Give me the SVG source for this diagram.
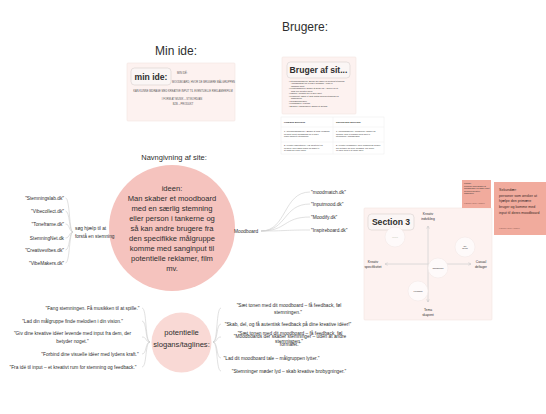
<svg xmlns="http://www.w3.org/2000/svg" width="546" height="414" viewBox="0 0 546 414">
<defs>
<style>
text{font-family:"Liberation Sans",Arial,sans-serif;fill:#2e2e2e}
.h{font-size:12px}
.sub{font-size:7.5px}
.big{font-size:7.6px}
.sm{font-size:4.8px}
.tiny{font-size:2.6px;fill:#555}
.xt{font-size:2.1px;fill:#666}
.frame{fill:#fdf2f0;stroke:#f4e4e1;stroke-width:0.6}
.lbl{fill:#fbf6f5;stroke:#d9d0ce;stroke-width:0.6}
.lt{font-weight:600}
.con{fill:none;stroke:#cdcdcd;stroke-width:0.6}
.ax{fill:none;stroke:#d3d3d3;stroke-width:0.8}
.dot{fill:#fefafa;stroke:#f0e6e4;stroke-width:0.5}
.sticky{fill:#f1ab9d}
.st{font-size:3.6px;fill:#3a2a27}
.c{text-anchor:middle}
.e{text-anchor:end}
</style>
<marker id="arr" viewBox="0 0 6 6" refX="5" refY="3" markerWidth="4" markerHeight="4" orient="auto-start-reverse">
<path d="M0,0.5 L5,3 L0,5.5" fill="none" stroke="#c8c8c8" stroke-width="1"/>
</marker>
</defs>
<rect width="546" height="414" fill="#ffffff"/>

<g id="title-min-ide"><text class="h" x="155" y="55">Min ide:</text></g>
<g id="title-brugere"><text class="h" x="282" y="31">Brugere:</text></g>
<g id="title-navngivning"><text class="sub c" x="174" y="159.5">Navngivning af site:</text></g>

<g id="min-ide-frame">
<rect class="frame" x="127" y="63" width="108" height="58" rx="1"/>
<rect class="lbl" x="131" y="68" width="40" height="17" rx="3.5"/>
<text class="lt" x="151" y="79.5" font-size="8.6" text-anchor="middle">min ide:</text>
<text class="tiny" x="177" y="74">MIN IDÉ:</text>
<text class="tiny" x="172" y="83">MOODBOARD, HVOR DE BRUGERE MÅLGRUPPEN</text>
<text class="tiny c" x="183" y="92">KAN KUNNE BIDRAGE MED KREATIVE INPUT TIL EVENTUELLE REKLAMER/FILM</text>
<text class="tiny c" x="182" y="100">I FORM AT MUSIK – STIKORD/AN</text>
<text class="tiny c" x="183" y="105">B2B – PRODUKT</text>
</g>

<g id="bruger-frame">
<rect class="frame" x="282" y="57" width="74" height="57" rx="1"/>
<rect class="lbl" x="287" y="62" width="63" height="16" rx="3.5"/>
<text class="lt" x="318.5" y="73" font-size="8.6" text-anchor="middle">Bruger af sit...</text>
<g class="xt">
<text x="289" y="81.5">• Stemningssøgeren: Bruger der søger en bestemt stemning</text>
<text x="291" y="84">i moodboardet og vil have feedback – som vil</text>
<text x="291" y="86.5">indsamle input</text>
<text x="289" y="89">• Kreativskaberen: ønsker at bruge lyd – skriver for at</text>
<text x="291" y="91.5">finde nye kreative idéer</text>
<text x="289" y="94">• Sanger / musiker der vil dele input</text>
<text x="289" y="96.5">• Producent: søger et godt match mellem stemning og</text>
<text x="291" y="99">målgruppen</text>
<text x="289" y="101.5">• Reklamebureauer</text>
<text x="289" y="104">• Filmskabere / kortfilm</text>
<text x="289" y="106.5">• Brugere i målgruppen: ønsker at deltage</text>
</g>
</g>

<g id="bruger-table">
<rect x="281" y="117" width="103" height="37" fill="#ffffff" stroke="#ececec" stroke-width="0.5"/>
<line x1="281" y1="127" x2="384" y2="127" stroke="#ececec" stroke-width="0.5"/>
<line x1="281" y1="142" x2="384" y2="142" stroke="#ececec" stroke-width="0.5"/>
<line x1="333" y1="117" x2="333" y2="154" stroke="#ececec" stroke-width="0.5"/>
<g class="xt">
<text x="284" y="122.5" font-weight="bold">PRIMÆRE BRUGERE</text>
<text x="336" y="122.5" font-weight="bold">SEKUNDÆRE BRUGERE</text>
<text x="284" y="132">1. "Stemningssøgeren": Ønsker at finde feedback</text>
<text x="284" y="134.5">og input på sit moodboard og vil have</text>
<text x="284" y="137">nogle konkrete stemninger</text>
<text x="336" y="132">1. "Musikskaberen": Producerer, sanger og</text>
<text x="336" y="134.5">musiker, som vil bidrage med input til</text>
<text x="336" y="137">stemninger i moodboards</text>
<text x="284" y="146">2. "Kreativ Inspiratoren": Har kreativitet og</text>
<text x="284" y="148.5">og idéer, men søger hjælp fra andre til</text>
<text x="284" y="151">at forstå sin egen vision</text>
<text x="336" y="146">2. "Kreativ feedbacker": Den engagerede bruger</text>
<text x="336" y="148.5">der deltager og giver feedback, der gerne</text>
<text x="336" y="151">vil være med til at forme idéer</text>
</g>
</g>

<g id="connectors">
<line class="con" x1="116" y1="230" x2="124" y2="230"/>
<path class="con" d="M73,232 C69,232 70,198 65.5,198"/>
<path class="con" d="M73,232 C69,232 70,211 65.5,211"/>
<path class="con" d="M73,232 C69,232 70,224 65.5,224"/>
<path class="con" d="M73,232 C69,232 70,238 65.5,238"/>
<path class="con" d="M73,232 C69,232 70,250 65.5,250"/>
<path class="con" d="M73,232 C69,232 70,263 65.5,263"/>
<line class="con" x1="222" y1="231" x2="233" y2="231"/>
<path class="con" d="M261,231 C287,231 283,192 310,192"/>
<path class="con" d="M261,231 C287,231 283,204 310,204"/>
<path class="con" d="M261,231 C287,231 283,217 310,217"/>
<path class="con" d="M261,231 C287,231 283,230 310,230"/>
<path class="con" d="M150,342 C145,342 147,308 142,308"/>
<path class="con" d="M150,342 C145,342 147,321 142,321"/>
<path class="con" d="M150,342 C145,342 147,337 142,337"/>
<path class="con" d="M150,342 C145,342 147,354 142,354"/>
<path class="con" d="M150,342 C145,342 147,367 142,367"/>
<path class="con" d="M213,342 C218,342 216,308 221,308"/>
<path class="con" d="M213,342 C218,342 216,324 221,324"/>
<path class="con" d="M213,342 C218,342 216,337 221,337"/>
<path class="con" d="M213,342 C218,342 216,358 221,358"/>
<path class="con" d="M213,342 C218,342 216,371 221,371"/>
</g>

<g id="ideen">
<circle cx="172" cy="228" r="63" fill="#f5c3be"/>
<g class="big c">
<text x="172" y="190.5">ideen:</text>
<text x="172" y="200.5">Man skaber et moodboard</text>
<text x="172" y="210.6">med en særlig stemning</text>
<text x="172" y="220.7">eller person i tankerne og</text>
<text x="172" y="230.8">så kan andre brugere fra</text>
<text x="172" y="240.9">den specifikke målgruppe</text>
<text x="172" y="251">komme med sanginput til</text>
<text x="172" y="261.1">potentielle reklamer, film</text>
<text x="172" y="271.2">mv.</text>
</g>
</g>

<g id="soeg-hjaelp">
<text class="sm" x="75" y="229.5">søg hjælp til at</text>
<text class="sm" x="75" y="237.5">forstå en stemning</text>
</g>
<g id="navne-venstre" class="sm e">
<text x="64" y="199.7">"Stemningslab.dk"</text>
<text x="64" y="212.7">"Vibecollect.dk"</text>
<text x="64" y="225.7">"Toneframe.dk"</text>
<text x="64" y="239.7">StemningNet.dk</text>
<text x="64" y="251.7">"Creativevibes.dk"</text>
<text x="64" y="264.7">"VibeMakers.dk"</text>
</g>

<g id="moodboard"><text class="sm" x="234" y="232.7">Moodboard</text></g>
<g id="navne-hoejre" class="sm">
<text x="311" y="193.7">"moodmatch.dk"</text>
<text x="311" y="205.7">"Inputmood.dk"</text>
<text x="311" y="218.7">"Moodify.dk"</text>
<text x="311" y="231.7">"Inspireboard.dk"</text>
</g>

<g id="slogans">
<circle cx="181.5" cy="342.5" r="30" fill="#f9d9d5"/>
<text class="big c" x="181.5" y="334.8" font-size="8">potentielle</text>
<text class="big c" x="181.5" y="346.8" font-size="8">slogans/taglines:</text>
</g>

<g id="slogans-venstre" class="sm c">
<text x="92.5" y="309.7">"Fang stemningen. Få musikken til at spille."</text>
<text x="72.5" y="322.7">"Lad din målgruppe finde melodien i din vision."</text>
<text x="72.5" y="334.7">"Giv dine kreative idéer levende med input fra dem, der</text>
<text x="72.5" y="342.7">betyder noget."</text>
<text x="90" y="355.7">"Forbind dine visuelle idéer med lydens kraft."</text>
<text x="73" y="368.7">"Fra idé til input – et kreativt rum for stemning og feedback."</text>
</g>

<g id="slogans-hoejre" class="sm c">
<text x="289" y="306.7">"Sæt tonen med dit moodboard – få feedback, føl</text>
<text x="288" y="313.7">stemningen."</text>
<text x="288" y="325.7">"Skab, del, og få autentisk feedback på dine kreative idéer!"</text>
<text x="290" y="334.7">"Sæt tonen med dit moodboard – få feedback, føl</text>
<text x="290" y="338.2">"Moodboards der skaber stemninger – uden at andre</text>
<text x="289" y="342.9">stemningen."</text>
<text x="290" y="346.4">formålet."</text>
<text x="271.5" y="359.7">"Lad dit moodboard tale – målgruppen lytter."</text>
<text x="289" y="372.7">"Stemninger møder lyd – skab kreative brobygninger."</text>
</g>

<g id="section-3">
<rect class="frame" x="364" y="208" width="128" height="112" rx="1"/>
<rect class="lbl" x="368" y="214" width="46" height="16" rx="3.5"/>
<text x="391" y="225.3" font-size="8.6" font-weight="bold" text-anchor="middle">Section 3</text>
<line class="ax" x1="428" y1="226" x2="428" y2="302" marker-start="url(#arr)" marker-end="url(#arr)"/>
<line class="ax" x1="385" y1="264" x2="471" y2="264" marker-start="url(#arr)" marker-end="url(#arr)"/>
<circle class="dot" cx="395" cy="237" r="10"/>
<circle class="dot" cx="465" cy="247" r="10"/>
<circle class="dot" cx="438" cy="268" r="10"/>
<circle class="dot" cx="418" cy="291" r="10"/>
<g class="xt c">
<text x="395" y="237.7">———</text>
<text x="465" y="246.5">Idé</text>
<text x="465" y="249">deling</text>
<text x="438" y="268.7">Samarbejde</text>
<text x="418" y="291.7">Feedback</text>
</g>
<g class="c" font-size="3.3">
<text x="428" y="215">Kreativ</text>
<text x="428" y="220">indvikling</text>
<text x="373" y="262.5">Kreativ</text>
<text x="373" y="267.5">specifikvitet</text>
<text x="481" y="262.5">Casual</text>
<text x="481" y="267.5">deltager</text>
<text x="428" y="311">Tema</text>
<text x="428" y="316">skapent</text>
</g>
</g>

<g id="sticky-primaer">
<rect class="sticky" x="462" y="180" width="29" height="28"/>
<g class="xt" style="fill:#3a2a27">
<text x="464" y="184">Primær:</text>
<text x="464" y="186.6">personer som ønsker at</text>
<text x="464" y="189.2">moodboarde og søger input</text>
<text x="464" y="191.8">fra deres kreative</text>
<text x="464" y="194.4">målgruppe</text>
<text x="464" y="204" style="fill:#8a5a50">Karoline Sofie Hansen</text>
</g>
</g>

<g id="sticky-sekundaer">
<rect class="sticky" x="494" y="182" width="52" height="53"/>
<text class="st" x="499" y="191.2">Sekundær:</text>
<text class="st" x="499" y="196.8">personer som ønsker at</text>
<text class="st" x="499" y="202.4">hjælpe den primære</text>
<text class="st" x="499" y="208">bruger og komme med</text>
<text class="st" x="499" y="213.6">input til deres moodboard</text>
<text class="xt" x="499" y="228.5" style="fill:#8a5a50">Karoline Sofie Hansen</text>
</g>
</svg>
